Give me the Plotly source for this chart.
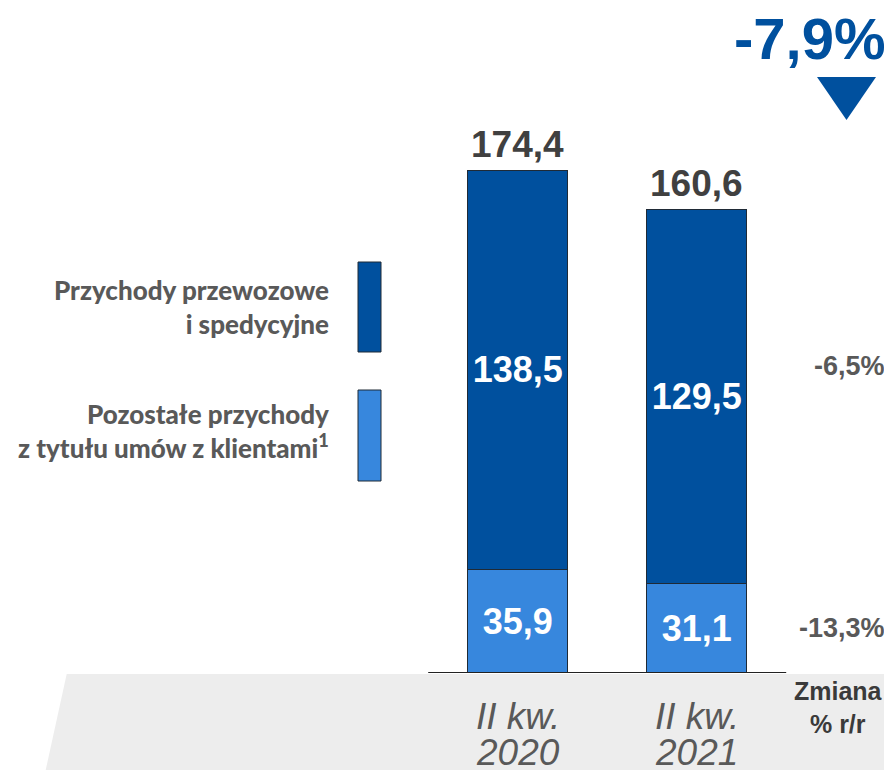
import plotly.graph_objects as go

# ---- data ----
categories = ["II kw. 2020", "II kw. 2021"]
cat_line1 = ["II kw.", "II kw."]
cat_line2 = ["2020", "2021"]
przewozowe = [138.5, 129.5]
pozostale = [35.9, 31.1]
totals = [174.4, 160.6]
series_names = ["Przychody przewozowe<br>i spedycyjne",
                "Pozostałe przychody<br>z tytułu umów z klientami<sup>1</sup>"]
change_labels = ["-6,5%", "-13,3%"]
total_change = "-7,9%"
change_header = "Zmiana<br>% r/r"

def fmt(v):
    return f"{v:.1f}".replace(".", ",")

# the page body has an 8px default margin, so the figure is drawn 8px in
OFF = 8
W, H = 892 - OFF, 770 - OFF
DARK = "#00509E"
LIGHT = "#3787DD"
GREY_TXT = "#595959"
NUM_FONT = "Arial, Liberation Sans, sans-serif"
LEG_FONT = "Lato, Noto Sans, sans-serif"

def px(x):
    return (x - OFF) / W

def py(y):
    return 1 - (y - OFF) / H

BASE_Y = 673          # screen pixel of value 0
PX_PER_UNIT = 2.883   # vertical pixels per unit
BAR_STEP = 179        # pixels between bar centres
BAR1_X = 517.7        # screen pixel of first bar centre

x0 = -(BAR1_X - OFF) / BAR_STEP
x1 = x0 + W / BAR_STEP

fig = go.Figure()
fig.add_trace(go.Bar(
    x=categories, y=pozostale, name="pozostale",
    marker=dict(color=LIGHT, line=dict(color="#1f2a36", width=1)),
    width=100 / BAR_STEP,
    text=[fmt(v) for v in pozostale], textposition="inside",
    insidetextanchor="middle", constraintext="none",
    textfont=dict(family=NUM_FONT, size=36, color="white", weight="bold"),
    hoverinfo="skip",
))
fig.add_trace(go.Bar(
    x=categories, y=przewozowe, name="przewozowe",
    marker=dict(color=DARK, line=dict(color="#1f2a36", width=1)),
    width=100 / BAR_STEP,
    text=[fmt(v) for v in przewozowe], textposition="inside",
    insidetextanchor="middle", constraintext="none",
    textfont=dict(family=NUM_FONT, size=36, color="white", weight="bold"),
    hoverinfo="skip",
))

shapes = []
annotations = []

# grey band at the bottom
shapes.append(dict(type="path", xref="paper", yref="paper",
                   path=f"M {px(66.7)},{py(674)} L 1,{py(674)} L 1,0 L {px(45.7)},0 Z",
                   fillcolor="#EDEDED", line=dict(width=0), layer="below"))
# baseline
shapes.append(dict(type="line", xref="x", yref="y", x0=-0.5, x1=1.5, y0=0, y1=0,
                   line=dict(color="#222222", width=2)))

# totals
for c, t in zip(categories, totals):
    annotations.append(dict(x=c, y=t, xref="x", yref="y", text=f"<b>{fmt(t)}</b>",
                            showarrow=False, yanchor="middle", yshift=26,
                            font=dict(family=NUM_FONT, size=37, color="#404040")))

# category labels
for c, l1, l2 in zip(categories, cat_line1, cat_line2):
    annotations.append(dict(x=c, y=py(716), xref="x", yref="paper", text=l1,
                            showarrow=False, yanchor="middle",
                            font=dict(family=NUM_FONT, size=37, color=GREY_TXT, style="italic")))
    annotations.append(dict(x=c, y=py(752), xref="x", yref="paper", text=l2,
                            showarrow=False, yanchor="middle",
                            font=dict(family=NUM_FONT, size=37, color=GREY_TXT, style="italic")))

# legend
leg_rects = [(262, 352, DARK), (390, 481, LIGHT)]
leg_text_y = [307, 431]
for (y0, y1, col), name, ty in zip(leg_rects, series_names, leg_text_y):
    shapes.append(dict(type="rect", xref="paper", yref="paper",
                       x0=px(358), x1=px(381), y0=py(y1), y1=py(y0),
                       fillcolor=col, line=dict(color="#1f2a36", width=1)))
    annotations.append(dict(x=px(331), y=py(ty), xref="paper", yref="paper",
                            text=name, showarrow=False,
                            xanchor="right", yanchor="middle", align="right",
                            font=dict(family=LEG_FONT, size=26, weight=900, color=GREY_TXT)))

# change column
for lbl, ty in zip(change_labels, [366, 628]):
    annotations.append(dict(x=px(887), y=py(ty), xref="paper", yref="paper",
                            text=f"<b>{lbl}</b>", showarrow=False,
                            xanchor="right", yanchor="middle",
                            font=dict(family=NUM_FONT, size=27, color=GREY_TXT)))
annotations.append(dict(x=px(838), y=py(707), xref="paper", yref="paper",
                        text=f"<b>{change_header}</b>", showarrow=False,
                        xanchor="center", yanchor="middle", align="center",
                        font=dict(family=NUM_FONT, size=25, color="#3a3a3a")))

# total change
annotations.append(dict(x=px(888), y=py(39), xref="paper", yref="paper",
                        text=f"<b>{total_change}</b>", showarrow=False,
                        xanchor="right", yanchor="middle",
                        font=dict(family=NUM_FONT, size=58, color=DARK)))
shapes.append(dict(type="path", xref="paper", yref="paper",
                   path=f"M {px(817)},{py(77)} L {px(876)},{py(77)} L {px(846.5)},{py(120)} Z",
                   fillcolor=DARK, line=dict(width=0)))

fig.update_layout(
    width=W, height=H,
    margin=dict(l=0, r=0, t=0, b=0),
    paper_bgcolor="white", plot_bgcolor="rgba(0,0,0,0)",
    barmode="stack", showlegend=False,
    xaxis=dict(type="category", range=[x0, x1], visible=False, fixedrange=True),
    yaxis=dict(range=[0, (BASE_Y - OFF) / PX_PER_UNIT],
               domain=[(H - (BASE_Y - OFF)) / H, 1], visible=False, fixedrange=True),
    shapes=shapes, annotations=annotations,
)

fig.write_html("out.html")
